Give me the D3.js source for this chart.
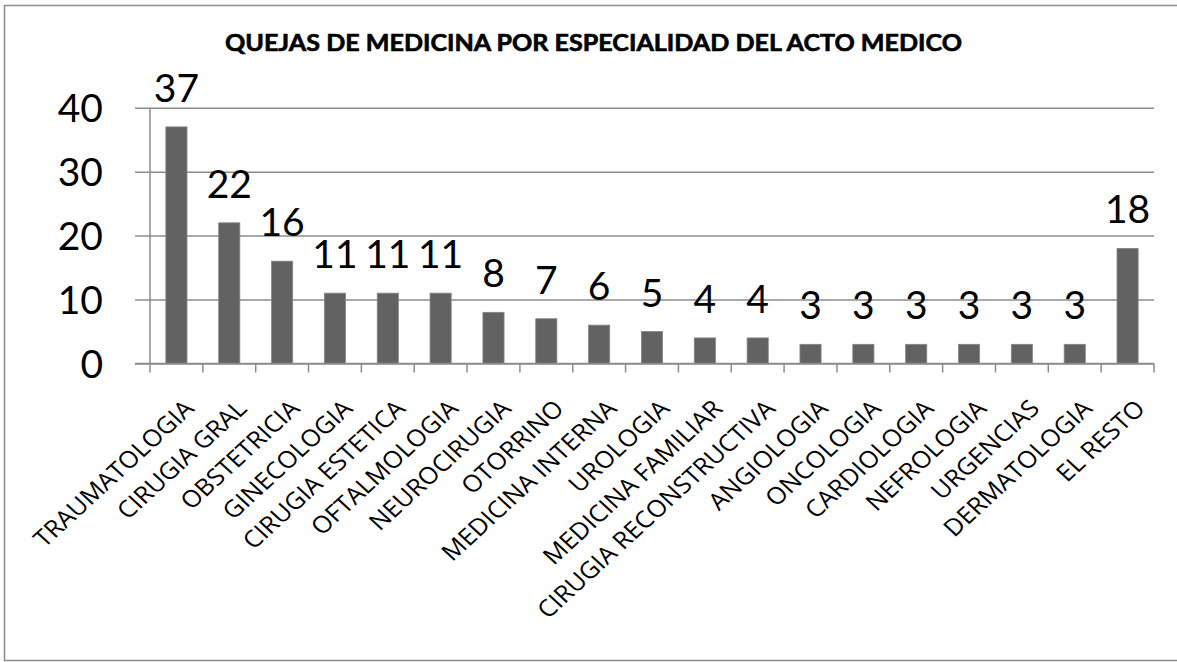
<!DOCTYPE html>
<html>
<head>
<meta charset="utf-8">
<script src="https://cdn.jsdelivr.net/npm/d3@7"></script>
<style>
  body { margin: 0; background: #fff; overflow: hidden; }
  svg { display: block; }
</style>
</head>
<body>
<div id="chart"></div>
<script>
// data
const categories = ["TRAUMATOLOGIA", "CIRUGIA GRAL", "OBSTETRICIA", "GINECOLOGIA", "CIRUGIA ESTETICA",
  "OFTALMOLOGIA", "NEUROCIRUGIA", "OTORRINO", "MEDICINA INTERNA", "UROLOGIA", "MEDICINA FAMILIAR",
  "CIRUGIA RECONSTRUCTIVA", "ANGIOLOGIA", "ONCOLOGIA", "CARDIOLOGIA", "NEFROLOGIA", "URGENCIAS",
  "DERMATOLOGIA", "EL RESTO"];
const values = [37, 22, 16, 11, 11, 11, 8, 7, 6, 5, 4, 4, 3, 3, 3, 3, 3, 3, 18];
const yTicks = [0, 10, 20, 30, 40];
const title = "QUEJAS DE MEDICINA POR ESPECIALIDAD DEL ACTO MEDICO";

const W = 1177, H = 662;
const plot = {left: 150, right: 1154, top: 107.7, bottom: 363.5};
const grey = "#8c8c8c";

const svg = d3.select("#chart").append("svg")
  .attr("width", W).attr("height", H);

// outer frame (right edge falls outside the picture)
svg.append("path")
  .attr("d", `M${W},5.5 H4.5 V660.5 H${W}`)
  .attr("fill", "none").attr("stroke", grey).attr("stroke-width", 1.5);

svg.append("text")
  .attr("x", 593.5).attr("y", 51)
  .attr("text-anchor", "middle")
  .attr("textLength", 737).attr("lengthAdjust", "spacingAndGlyphs")
  .attr("stroke", "#000").attr("stroke-width", 0.6)
  .style("font-family", "Lato, 'Open Sans', sans-serif")
  .style("font-weight", "bold").style("font-size", "22px")
  .text(title);

const xScale = d3.scaleBand()
  .domain(categories)
  .range([plot.left, plot.right]);

const yScale = d3.scaleLinear()
  .domain([0, 40])
  .range([plot.bottom, plot.top]);

// gridlines + left ticks
const yAxis = d3.axisLeft(yScale)
  .tickValues(yTicks)
  .tickSize(plot.right - plot.left + 15)
  .tickFormat(d => d);

const gy = svg.append("g")
  .attr("transform", `translate(${plot.right},0)`)
  .call(yAxis);
gy.select(".domain").remove();
gy.selectAll(".tick line").attr("stroke", grey).attr("stroke-width", 1.5);
gy.selectAll(".tick text")
  .attr("x", -(plot.right - 103))
  .attr("dy", "0.36em")
  .attr("fill", "#000")
  .style("font-family", "Lato, sans-serif")
  .style("font-size", "39px");

// y axis line
svg.append("line")
  .attr("x1", plot.left).attr("x2", plot.left)
  .attr("y1", plot.top).attr("y2", plot.bottom)
  .attr("stroke", grey).attr("stroke-width", 1.5);

// bars
const bw = xScale.bandwidth() * 0.4;
svg.append("g").selectAll("rect")
  .data(values)
  .join("rect")
  .attr("x", (d, i) => xScale(categories[i]) + (xScale.bandwidth() - bw) / 2)
  .attr("y", d => yScale(d))
  .attr("width", bw)
  .attr("height", d => yScale(0) - yScale(d))
  .attr("fill", "#626262")
  .attr("stroke", "#858585")
  .attr("stroke-width", 0.8);

// value labels
svg.append("g").selectAll("text")
  .data(values)
  .join("text")
  .attr("x", (d, i) => xScale(categories[i]) + xScale.bandwidth() / 2)
  .attr("y", d => yScale(d) - 25)
  .attr("text-anchor", "middle")
  .style("font-family", "Lato, sans-serif")
  .style("font-size", "39px")
  .text(d => d);

// x axis with boundary ticks
const xAxisG = svg.append("g");
xAxisG.append("line")
  .attr("x1", plot.left - 15).attr("x2", plot.right)
  .attr("y1", plot.bottom).attr("y2", plot.bottom)
  .attr("stroke", grey).attr("stroke-width", 1.5);
const bounds = categories.map(c => xScale(c)).concat([plot.right]);
xAxisG.selectAll(".xt")
  .data(bounds)
  .join("line")
  .attr("class", "xt")
  .attr("x1", d => d).attr("x2", d => d)
  .attr("y1", plot.bottom).attr("y2", plot.bottom + 9)
  .attr("stroke", grey).attr("stroke-width", 1.5);

// category labels
svg.append("g").selectAll("text")
  .data(categories)
  .join("text")
  .attr("transform", d => `translate(${xScale(d) + xScale.bandwidth() / 2 + 19},410) scale(1.09,1) rotate(-45)`)
  .attr("text-anchor", "end")
  .style("font-family", "'Open Sans', sans-serif")
  .style("font-size", "23.5px")
  .text(d => d);
</script>
</body>
</html>
